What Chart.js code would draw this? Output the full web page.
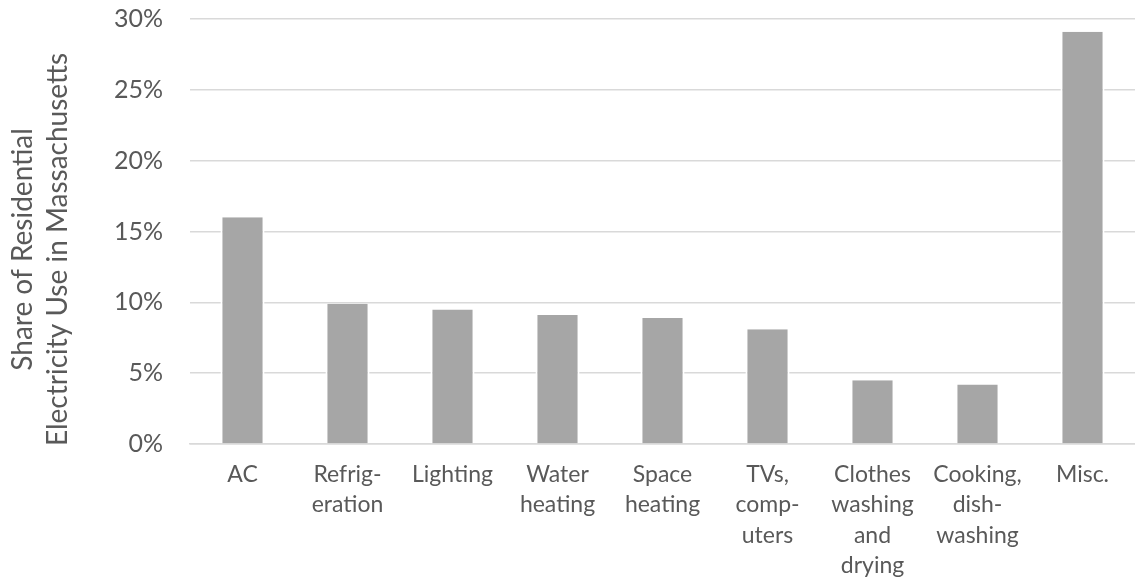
<!DOCTYPE html>
<html>
<head>
<meta charset="utf-8">
<script src="https://cdn.jsdelivr.net/npm/chart.js@4"></script>
<style>
  html, body { margin: 0; padding: 0; background: #ffffff; }
  #wrap { width: 1135px; height: 582px; position: relative; }
</style>
</head>
<body>
<div id="wrap"><canvas id="c" width="1135" height="582"></canvas></div>
<script>
const categories = [
  ["AC"],
  ["Refrig-", "eration"],
  ["Lighting"],
  ["Water", "heating"],
  ["Space", "heating"],
  ["TVs,", "comp-", "uters"],
  ["Clothes", "washing", "and", "drying"],
  ["Cooking,", "dish-", "washing"],
  ["Misc."]
];
const shareValues = [16.0, 9.9, 9.5, 9.1, 8.9, 8.1, 4.5, 4.2, 29.1];
const yTickValues = [0, 5, 10, 15, 20, 25, 30];
const yTitle = ["Share of Residential     ", "Electricity Use in Massachusetts     "];

const textColor = "#595959";
const fontFamily = "Lato, 'Open Sans', sans-serif";

new Chart(document.getElementById("c"), {
  type: "bar",
  data: {
    labels: categories,
    datasets: [{
      data: shareValues,
      backgroundColor: "#a6a6a6",
      borderColor: "#ffffff",
      borderWidth: { left: 2, right: 2, top: 0, bottom: 0 },
      borderSkipped: false,
      barPercentage: 0.42,
      categoryPercentage: 1.0
    }]
  },
  options: {
    responsive: false,
    animation: false,
    devicePixelRatio: 1,
    layout: { padding: { top: 0, right: 0, bottom: 0, left: 0 } },
    plugins: { legend: { display: false }, tooltip: { enabled: false } },
    scales: {
      x: {
        z: 1,
        grid: { display: false, drawTicks: false },
        border: { display: true, color: "#d9d9d9", width: 1.5 },
        ticks: {
          color: textColor,
          font: { family: fontFamily, size: 23, lineHeight: 1.33 },
          padding: 15,
          autoSkip: false,
          maxRotation: 0,
          minRotation: 0
        },
        afterFit: (s) => { s.height = 138; }
      },
      y: {
        min: 0,
        max: 30,
        afterBuildTicks: (s) => { s.ticks = yTickValues.map(v => ({ value: v })); },
        grid: { color: "#d9d9d9", lineWidth: 1.5, drawTicks: true, tickLength: 23, tickColor: "rgba(0,0,0,0)" },
        border: { display: false },
        ticks: {
          color: textColor,
          font: { family: fontFamily, size: 25 },
          padding: 4,
          callback: (v) => v + "%"
        },
        title: {
          display: true,
          text: yTitle,
          color: textColor,
          font: { family: fontFamily, size: 28, lineHeight: 1.25 },
          padding: { top: 5, bottom: 0 }
        },
        afterFit: (s) => { s.width = 190; }
      }
    }
  }
});
</script>
</body>
</html>
